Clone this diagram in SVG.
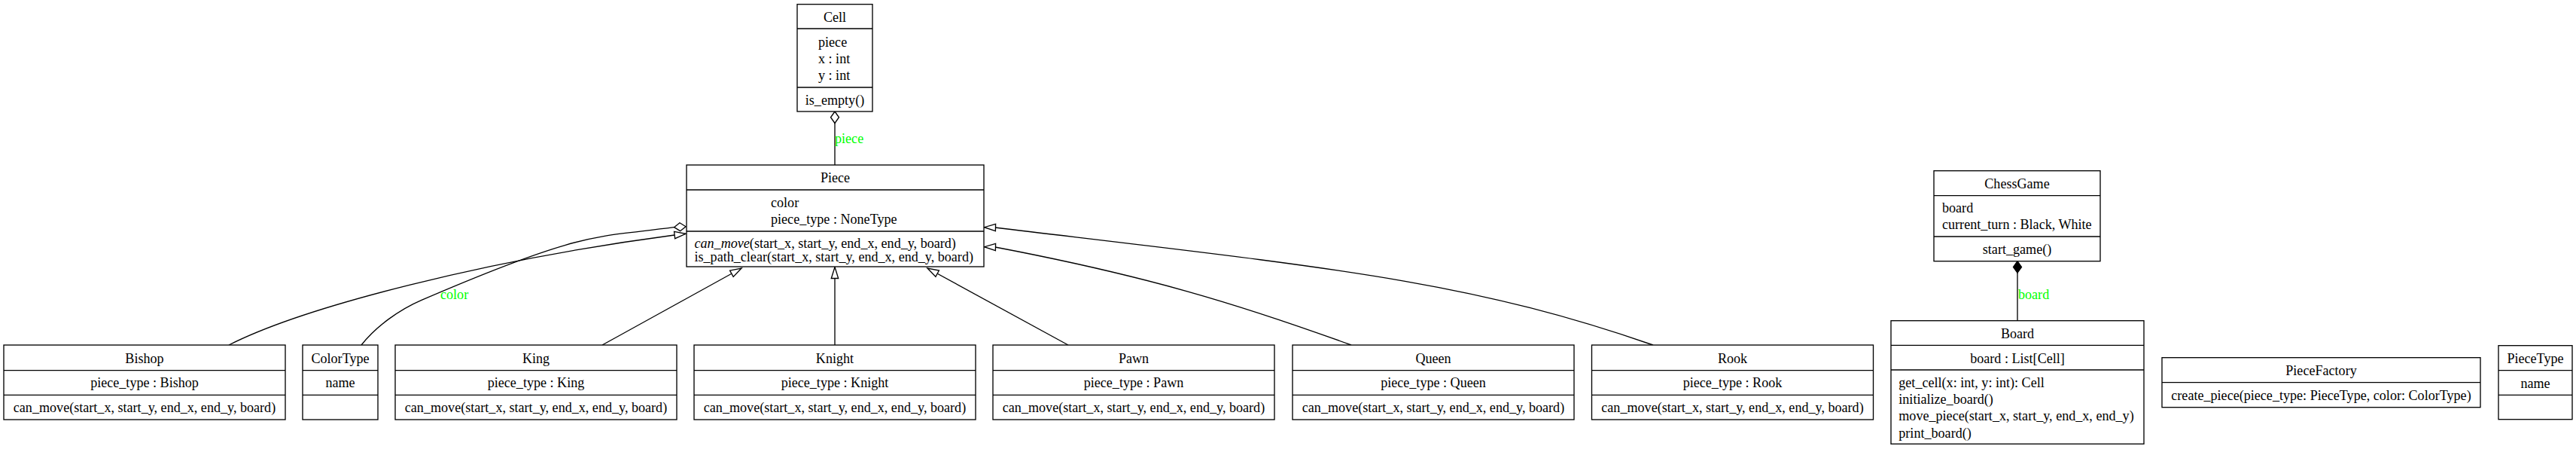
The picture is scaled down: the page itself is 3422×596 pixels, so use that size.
<svg xmlns="http://www.w3.org/2000/svg" width="3422" height="596" viewBox="0 0 3422 596">
<style>
  .box { fill: #ffffff; stroke: #000000; stroke-width: 1.33; }
  .div { stroke: #000000; stroke-width: 1.33; }
  text { font-family: "Liberation Serif", "Times New Roman", serif; font-size: 18.1px; fill: #000000; }
  .c { text-anchor: middle; }
  .l { text-anchor: start; }
  .lbl { fill: #00ff00; }
  .edge { fill: none; stroke: #000000; stroke-width: 1.33; }
  .inh { marker-end: url(#tri); }
  .agg { marker-end: url(#odiamond); }
  .comp { marker-end: url(#diamond); }
</style>
<defs>
  <marker id="tri" markerUnits="userSpaceOnUse" markerWidth="16" markerHeight="11" refX="15" refY="5" orient="auto" overflow="visible">
    <polygon points="0,0.3 15,5 0,9.7" fill="#ffffff" stroke="#000000" stroke-width="1.33"/>
  </marker>
  <marker id="odiamond" markerUnits="userSpaceOnUse" markerWidth="16" markerHeight="12" refX="15.5" refY="5.5" orient="auto" overflow="visible">
    <polygon points="0,5.5 7.75,0 15.5,5.5 7.75,11" fill="#ffffff" stroke="#000000" stroke-width="1.33"/>
  </marker>
  <marker id="diamond" markerUnits="userSpaceOnUse" markerWidth="16" markerHeight="12" refX="15.5" refY="5.5" orient="auto" overflow="visible">
    <polygon points="0,5.5 7.75,0 15.5,5.5 7.75,11" fill="#000000" stroke="#000000" stroke-width="1.33"/>
  </marker>
</defs>
<rect width="3422" height="596" fill="#ffffff"/>

<g id="edges">
  <path class="edge agg" d="M1109,219 L1109,148"/>
  <text class="lbl l" x="1109" y="190">piece</text>
  <path class="edge inh" d="M304,458 C404,407.3 646,345 896,312 L911,310.3"/>
  <path class="edge agg" d="M480,458 C500,433 530,411.2 560,398.3 C780,303.7 795,315.3 895,301.7 L911,300.7"/>
  <text class="lbl l" x="585" y="396.7">color</text>
  <path class="edge inh" d="M800,458 L985,356"/>
  <path class="edge inh" d="M1109,458 L1109,354.5"/>
  <path class="edge inh" d="M1419,458 L1232,356"/>
  <path class="edge inh" d="M1795,458 C1645,403.5 1522,366 1322,328 L1307.5,327.7"/>
  <path class="edge inh" d="M2196,458 C1946,371.5 1772,356 1322,302 L1307.5,301.7"/>
  <path class="edge comp" d="M2680,425.7 L2680,346.7"/>
  <text class="lbl l" x="2681" y="396.7">board</text>
</g>

<g id="Cell">
  <rect class="box" x="1059" y="5.7" width="100" height="142.3"/>
  <line class="div" x1="1059" y1="38" x2="1159" y2="38"/>
  <line class="div" x1="1059" y1="116" x2="1159" y2="116"/>
  <text class="c" x="1109" y="28.5">Cell</text>
  <text class="l" x="1087" y="61.5">piece</text>
  <text class="l" x="1087" y="83.5">x : int</text>
  <text class="l" x="1087" y="105.5">y : int</text>
  <text class="c" x="1109" y="138.5">is_empty()</text>
</g>

<g id="Piece">
  <rect class="box" x="912" y="219" width="395" height="135"/>
  <line class="div" x1="912" y1="252" x2="1307" y2="252"/>
  <line class="div" x1="912" y1="307" x2="1307" y2="307"/>
  <text class="c" x="1109.5" y="241.5">Piece</text>
  <text class="l" x="1024" y="274.5">color</text>
  <text class="l" x="1024" y="296.5">piece_type : NoneType</text>
  <text class="l" x="922.5" y="328.5"><tspan font-style="italic">can_move</tspan>(start_x, start_y, end_x, end_y, board)</text>
  <text class="l" x="922.5" y="347">is_path_clear(start_x, start_y, end_x, end_y, board)</text>
</g>

<g id="Bishop">
  <rect class="box" x="5" y="458" width="374" height="99"/>
  <line class="div" x1="5" y1="491.7" x2="379" y2="491.7"/>
  <line class="div" x1="5" y1="524.3" x2="379" y2="524.3"/>
  <text class="c" x="192" y="481.5">Bishop</text>
  <text class="c" x="192" y="514">piece_type : Bishop</text>
  <text class="c" x="192" y="546.5">can_move(start_x, start_y, end_x, end_y, board)</text>
</g>

<g id="ColorType">
  <rect class="box" x="402" y="458" width="100" height="99"/>
  <line class="div" x1="402" y1="491.7" x2="502" y2="491.7"/>
  <line class="div" x1="402" y1="524.3" x2="502" y2="524.3"/>
  <text class="c" x="452" y="481.5">ColorType</text>
  <text class="c" x="452" y="514">name</text>
</g>

<g id="King">
  <rect class="box" x="525" y="458" width="374" height="99"/>
  <line class="div" x1="525" y1="491.7" x2="899" y2="491.7"/>
  <line class="div" x1="525" y1="524.3" x2="899" y2="524.3"/>
  <text class="c" x="712" y="481.5">King</text>
  <text class="c" x="712" y="514">piece_type : King</text>
  <text class="c" x="712" y="546.5">can_move(start_x, start_y, end_x, end_y, board)</text>
</g>

<g id="Knight">
  <rect class="box" x="922" y="458" width="374" height="99"/>
  <line class="div" x1="922" y1="491.7" x2="1296" y2="491.7"/>
  <line class="div" x1="922" y1="524.3" x2="1296" y2="524.3"/>
  <text class="c" x="1109" y="481.5">Knight</text>
  <text class="c" x="1109" y="514">piece_type : Knight</text>
  <text class="c" x="1109" y="546.5">can_move(start_x, start_y, end_x, end_y, board)</text>
</g>

<g id="Pawn">
  <rect class="box" x="1319" y="458" width="374" height="99"/>
  <line class="div" x1="1319" y1="491.7" x2="1693" y2="491.7"/>
  <line class="div" x1="1319" y1="524.3" x2="1693" y2="524.3"/>
  <text class="c" x="1506" y="481.5">Pawn</text>
  <text class="c" x="1506" y="514">piece_type : Pawn</text>
  <text class="c" x="1506" y="546.5">can_move(start_x, start_y, end_x, end_y, board)</text>
</g>

<g id="Queen">
  <rect class="box" x="1717" y="458" width="374" height="99"/>
  <line class="div" x1="1717" y1="491.7" x2="2091" y2="491.7"/>
  <line class="div" x1="1717" y1="524.3" x2="2091" y2="524.3"/>
  <text class="c" x="1904" y="481.5">Queen</text>
  <text class="c" x="1904" y="514">piece_type : Queen</text>
  <text class="c" x="1904" y="546.5">can_move(start_x, start_y, end_x, end_y, board)</text>
</g>

<g id="Rook">
  <rect class="box" x="2114.5" y="458" width="374" height="99"/>
  <line class="div" x1="2114.5" y1="491.7" x2="2488.5" y2="491.7"/>
  <line class="div" x1="2114.5" y1="524.3" x2="2488.5" y2="524.3"/>
  <text class="c" x="2301.5" y="481.5">Rook</text>
  <text class="c" x="2301.5" y="514">piece_type : Rook</text>
  <text class="c" x="2301.5" y="546.5">can_move(start_x, start_y, end_x, end_y, board)</text>
</g>

<g id="ChessGame">
  <rect class="box" x="2569" y="226.7" width="221" height="120"/>
  <line class="div" x1="2569" y1="259.7" x2="2790" y2="259.7"/>
  <line class="div" x1="2569" y1="314" x2="2790" y2="314"/>
  <text class="c" x="2679.5" y="250">ChessGame</text>
  <text class="l" x="2580" y="281.5">board</text>
  <text class="l" x="2580" y="304">current_turn : Black, White</text>
  <text class="c" x="2679.5" y="336.5">start_game()</text>
</g>

<g id="Board">
  <rect class="box" x="2512" y="425.7" width="336" height="163.6"/>
  <line class="div" x1="2512" y1="458.3" x2="2848" y2="458.3"/>
  <line class="div" x1="2512" y1="491" x2="2848" y2="491"/>
  <text class="c" x="2680" y="449">Board</text>
  <text class="c" x="2680" y="481.5">board : List[Cell]</text>
  <text class="l" x="2522.3" y="514">get_cell(x: int, y: int): Cell</text>
  <text class="l" x="2522.3" y="536.2">initialize_board()</text>
  <text class="l" x="2522.3" y="558.4">move_piece(start_x, start_y, end_x, end_y)</text>
  <text class="l" x="2522.3" y="580.6">print_board()</text>
</g>

<g id="PieceFactory">
  <rect class="box" x="2872" y="474.7" width="423" height="66"/>
  <line class="div" x1="2872" y1="507.7" x2="3295" y2="507.7"/>
  <text class="c" x="3083.5" y="498">PieceFactory</text>
  <text class="c" x="3083.5" y="531">create_piece(piece_type: PieceType, color: ColorType)</text>
</g>

<g id="PieceType">
  <rect class="box" x="3319" y="458.7" width="98" height="98"/>
  <line class="div" x1="3319" y1="491.7" x2="3417" y2="491.7"/>
  <line class="div" x1="3319" y1="524.3" x2="3417" y2="524.3"/>
  <text class="c" x="3368" y="482">PieceType</text>
  <text class="c" x="3368" y="514.5">name</text>
</g>
</svg>
